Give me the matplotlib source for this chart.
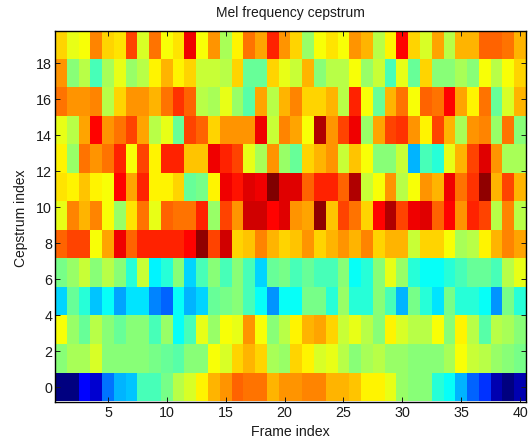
import numpy as np
import matplotlib
matplotlib.use("Agg")
import matplotlib.pyplot as plt
from matplotlib.colors import LinearSegmentedColormap

plt.rcParams['font.family'] = ['Liberation Sans', 'DejaVu Sans']

frames = list(range(1, 41))
y_first, y_last = 0, 19

row_0 = [0, .01, .125, .08, .235, .3, .32, .44, .45, .49, .56, .58, .625, .7, .72, .77, .75, .75, .7, .73,
         .72, .74, .74, .7, .7, .68, .625, .625, .6, .53, .5, .5, .41, .39, .31, .22, .18, .05, .015, .05]
row_1 = [.51, .545, .54, .58, .51, .505, .5, .5, .49, .47, .46, .5, .5, .61, .59, .66, .7, .66, .545, .52,
         .66, .625, .58, .6, .56, .5, .545, .56, .53, .53, .51, .5, .5, .545, .61, .57, .56, .53, .51, .485]
row_2 = [.61, .52, .47, .56, .51, .47, .51, .505, .44, .53, .39, .44, .6, .53, .61, .6, .73, .61, .505, .56,
         .625, .7, .71, .67, .57, .6, .56, .51, .625, .59, .56, .56, .61, .51, .625, .56, .46, .56, .54, .51]
row_3 = [.33, .47, .42, .32, .39, .29, .35, .35, .26, .22, .375, .3, .34, .47, .485, .51, .44, .375, .28, .39,
         .38, .485, .485, .41, .52, .41, .41, .5, .45, .31, .485, .42, .35, .485, .41, .42, .39, .28, .485, .42]
row_4 = [.485, .52, .57, .505, .55, .505, .41, .57, .36, .41, .5, .34, .44, .5, .45, .5, .45, .33, .47, .49,
         .45, .47, .45, .45, .5, .39, .42, .5, .6, .53, .41, .39, .375, .41, .44, .47, .47, .45, .56, .6]
row_5 = [.78, .81, .8, .61, .71, .875, .77, .84, .83, .83, .83, .86, .97, .8, .92, .66, .68, .74, .7, .67,
         .68, .72, .67, .69, .73, .7, .74, .66, .7, .7, .57, .66, .67, .61, .54, .55, .625, .7, .74, .71]
row_6 = [.6, .74, .7, .74, .61, .52, .65, .75, .6, .78, .75, .75, .83, .53, .81, .73, .91, .91, .86, .905,
         .73, .71, .97, .68, .8, .76, .66, .86, .94, .8, .89, .9, .77, .86, .73, .84, .8, .56, .74, .55]
row_7 = [.65, .64, .68, .625, .61, .86, .71, .84, .64, .64, .66, .47, .485, .625, .89, .85, .905, .875, 1.0, .905,
         .905, .78, .84, .83, .77, .94, .57, .61, .73, .56, .61, .72, .7, .875, .76, .82, .97, .7, .8, .7]
row_8 = [.625, .52, .76, .73, .76, .83, .61, .8, .64, .83, .84, .68, .68, .89, .84, .81, .6, .54, .72, .52,
         .48, .66, .69, .73, .57, .68, .61, .5, .51, .57, .31, .45, .42, .6, .69, .81, .9, .73, .545, .545]
row_9 = [.6, .55, .71, .86, .72, .75, .8, .71, .55, .6, .47, .8, .77, .67, .72, .72, .72, .89, .57, .74,
         .71, .61, .94, .73, .81, .875, .53, .71, .81, .82, .73, .625, .81, .7, .545, .73, .74, .52, .76, .51]
row_10 = [.75, .72, .72, .74, .55, .67, .72, .73, .69, .76, .82, .78, .56, .54, .6, .52, .46, .71, .55, .7,
          .74, .66, .66, .7, .55, .83, .61, .47, .69, .75, .61, .78, .75, .86, .71, .64, .76, .47, .59, .7]
row_11 = [.72, .51, .55, .45, .54, .6, .53, .55, .64, .69, .64, .67, .57, .57, .55, .67, .47, .47, .66, .6,
          .57, .69, .5, .56, .56, .61, .53, .57, .44, .6, .47, .67, .51, .505, .545, .5, .61, .55, .61, .66]
row_12 = [.67, .6, .61, .745, .67, .65, .8, .59, .75, .61, .65, .875, .61, .73, .54, .64, .76, .71, .84, .73,
          .66, .53, .61, .65, .61, .72, .7, .55, .625, .86, .67, .59, .71, .56, .7, .69, .78, .77, .76, .69]

rows = [row_0, row_1, row_2, row_3, row_4, row_5, row_6, row_7, row_8, row_9, row_10, row_11, row_12]
z = np.array(rows)

x_ticks = [5, 10, 15, 20, 25, 30, 35, 40]
y_ticks = [0, 2, 4, 6, 8, 10, 12, 14, 16, 18]

jet64 = LinearSegmentedColormap.from_list(
    "matlab_jet",
    ["#000080", "#0000ff", "#0080ff", "#00ffff", "#80ff80", "#ffff00", "#ff8000", "#ff0000", "#800000"],
    N=64,
)

W, H = 531, 438
fig = plt.figure(figsize=(W / 100, H / 100), dpi=100)
ax = fig.add_axes([55 / W, 1 - 401.5 / H, 471 / W, 370.5 / H])

half = (y_last - y_first) / (z.shape[0] - 1) / 2
ax.imshow(z, cmap=jet64, vmin=0, vmax=1, origin="lower", aspect="auto", interpolation="nearest",
          extent=[frames[0] - .5, frames[-1] + .5, y_first - half, y_last + half])

ax.set_xticks(x_ticks)
ax.set_yticks(y_ticks)
ax.tick_params(direction="in", top=True, right=True, length=3.5, width=0.7, labelsize=10.3, colors="#1a1a1a")
ax.tick_params(axis="x", pad=3.5)
ax.tick_params(axis="y", pad=2)
for s in ax.spines.values():
    s.set_linewidth(1.0)
ax.set_xlabel("Frame index", fontsize=10.2, labelpad=3, color="#1a1a1a")
ax.set_ylabel("Cepstrum index", fontsize=10, color="#1a1a1a")
ax.yaxis.set_label_coords(-0.057, 0.494)
ax.set_title("Mel frequency cepstrum", fontsize=10, pad=10, color="#1a1a1a")

fig.savefig("out.png", dpi=100)
